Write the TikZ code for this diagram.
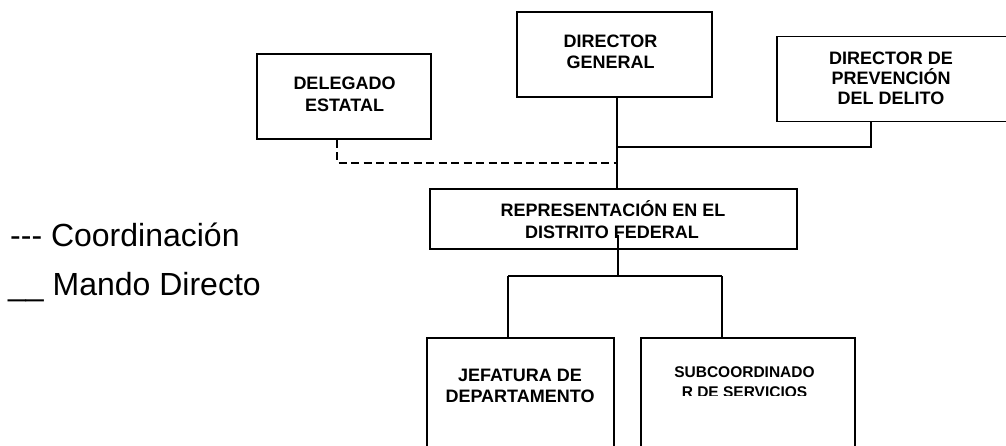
\documentclass[tikz,border=0pt]{standalone}
\usepackage{fontspec}
\newfontfamily\arial{Liberation Sans}
\usetikzlibrary{calc}
\begin{document}
\begin{tikzpicture}[x=1pt,y=-1pt,
  box/.style={draw, line width=1.3pt, rectangle, inner sep=0pt},
  bt/.style={anchor=base, inner sep=0pt, font=\arial\bfseries\fontsize{18}{20}\selectfont},
  st/.style={anchor=base, inner sep=0pt, font=\arial\bfseries\fontsize{15.5}{18}\selectfont},
  leg/.style={anchor=base west, inner sep=0pt, font=\arial\fontsize{32}{36}\selectfont},
  conn/.style={line width=1.3pt},
  coordline/.style={conn, dash pattern=on 8pt off 4.5pt}]
\clip (0,0) rectangle (1006,445);
\fill[white] (0,0) rectangle (1006,445);
% boxes
\node[box, minimum width=174pt, minimum height=85pt] (del) at (344,96.5) {};
\node[box, minimum width=195pt, minimum height=85pt] (dg) at (614.5,54.5) {};
\node[box, minimum width=243pt, minimum height=85pt] (dp) at (898.5,79) {};
\node[box, minimum width=367pt, minimum height=60pt] (rep) at (613.5,219) {};
\node[box, minimum width=187pt, minimum height=122pt] (jef) at (520.5,399) {};
\node[box, minimum width=214pt, minimum height=122pt] (sub) at (748,399) {};
% texts
\node[bt] (del1) at (344.5,89) {DELEGADO};
\node[bt] (del2) at (344.5,111) {ESTATAL};
\node[bt] (dg1) at (610.5,47) {DIRECTOR};
\node[bt] (dg2) at (610.5,68) {GENERAL};
\node[bt] (dp1) at (891,64) {DIRECTOR DE};
\node[bt] (dp2) at (891,84) {PREVENCIÓN};
\node[bt] (dp3) at (891,104) {DEL DELITO};
\node[bt] (rep1) at (613,216) {REPRESENTACIÓN EN EL};
\node[bt] (rep2) at (612,238) {DISTRITO FEDERAL};
\node[bt] (jef1) at (520,381) {JEFATURA DE};
\node[bt] (jef2) at (520,402) {DEPARTAMENTO};
\node[st] (sub1) at (744.5,377) {SUBCOORDINADO};
\begin{scope}
  \clip (641,380) rectangle (855,395);
  \node[st] (sub2) at (744.5,397) {R DE SERVICIOS};
\end{scope}
% legend
\node[leg] (legc) at (10,246) {--- Coordinación};
\node[leg] (legm) at (8,295) {\_\_ Mando Directo};
% connector points
\coordinate (j1) at (617,147);
\coordinate (j2) at (617,163);
\coordinate (dpx) at (871,147);
\coordinate (delx) at (337,139);
\coordinate (r1) at (618,235);
\coordinate (r2) at (618,276);
\coordinate (bl) at (508,276);
\coordinate (br) at (722,276);
% connectors
\draw[conn] (dg.south -| j1) -- (j1 |- rep.north);
\draw[conn] (j1) -- (dpx) -- (dpx |- dp.south);
\draw[coordline] (delx |- del.south) -- (delx |- j2) -- (j2);
\draw[conn] (r1) -- (r2);
\draw[conn] (bl) -- (br);
\draw[conn] (bl) -- (bl |- jef.north);
\draw[conn] (br) -- (br |- sub.north);
\end{tikzpicture}
\end{document}
